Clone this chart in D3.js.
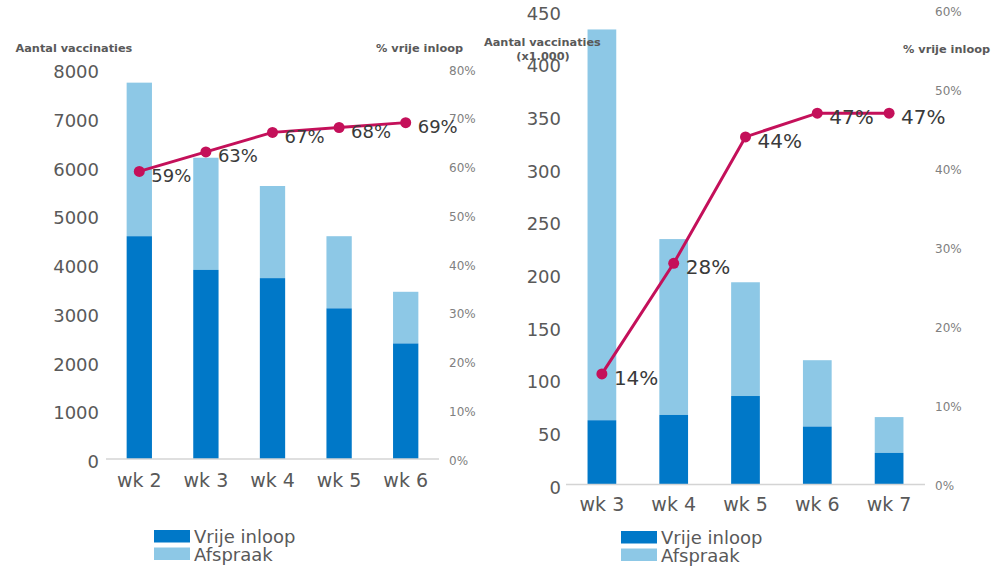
<!DOCTYPE html>
<html><head><meta charset="utf-8">
<script src="https://cdn.jsdelivr.net/npm/d3@7"></script>
<style>body{margin:0;background:#fff}svg{display:block}text{font-family:"DejaVu Sans",Verdana,sans-serif}</style>
</head><body><svg id="c" width="995" height="568"></svg>
<script>
// Left chart data
const leftWeeks = ["wk 2","wk 3","wk 4","wk 5","wk 6"];
const leftVrije = [4570,3880,3710,3090,2370];
const leftAfspraak = [3150,2300,1890,1480,1060];
const leftPct = [59,63,67,68,69];
const leftTicks = [0,1000,2000,3000,4000,5000,6000,7000,8000];
const leftPctTicks = [0,10,20,30,40,50,60,70,80];
// Right chart data
const rightWeeks = ["wk 3","wk 4","wk 5","wk 6","wk 7"];
const rightVrije = [61,66,84,55,30];
const rightAfspraak = [371,167,108,63,34];
const rightPct = [14,28,44,47,47];
const rightTicks = [0,50,100,150,200,250,300,350,400,450];
const rightPctTicks = [0,10,20,30,40,50,60];
const seriesNames = ["Vrije inloop","Afspraak"];

const C_DARK="#0078c8", C_LIGHT="#8dc8e6", C_LINE="#c4105a", C_TXT="#595959";
const svg = d3.select("#c");

function chart(o){
  const g = svg.append("g");
  const x = d3.scaleBand().domain(o.weeks).range([o.x0,o.x1]).paddingInner(o.pad).paddingOuter(o.pad/2);
  const y = d3.scaleLinear().domain([0,o.max]).range([o.base,o.top]);
  const yp = d3.scaleLinear().domain([0,o.pmax]).range([o.base,o.top]);
  // bars
  const stack = o.weeks.map((w,i)=>({w,v:o.vrije[i],a:o.afspraak[i]}));
  g.selectAll(".bl").data(stack).join("rect")
    .attr("x",d=>x(d.w)).attr("width",x.bandwidth())
    .attr("y",d=>y(d.v+d.a)).attr("height",d=>y(d.v)-y(d.v+d.a)).attr("fill",C_LIGHT);
  g.selectAll(".bd").data(stack).join("rect")
    .attr("x",d=>x(d.w)).attr("width",x.bandwidth())
    .attr("y",d=>y(d.v)).attr("height",d=>y(0)-y(d.v)).attr("fill",C_DARK);
  // baseline
  g.append("line").attr("x1",o.x0).attr("x2",o.x1).attr("y1",o.base).attr("y2",o.base)
    .attr("stroke","#d4d4d4").attr("stroke-width",1.5);
  // left ticks
  g.selectAll(".yt").data(o.ticks).join("text")
    .attr("x",o.ylx).attr("y",d=>y(d)+o.ydy).attr("text-anchor","end").attr("dominant-baseline","central")
    .attr("font-size",18).attr("fill",C_TXT).text(d=>d);
  // right pct ticks
  g.selectAll(".pt").data(o.pticks).join("text")
    .attr("x",o.prx).attr("y",d=>yp(d)+1.5).attr("dominant-baseline","central")
    .attr("font-size",12).attr("fill","#808080").text(d=>d+"%");
  // x labels
  g.selectAll(".xt").data(o.weeks).join("text")
    .attr("x",d=>x(d)+x.bandwidth()/2).attr("y",o.xly).attr("text-anchor","middle").attr("dominant-baseline","central")
    .attr("font-size",19).attr("fill",C_TXT).text(d=>d);
  // line
  const pts = o.weeks.map((w,i)=>[x(w)+x.bandwidth()/2, yp(o.pct[i]), o.pct[i]]);
  g.append("path").attr("d",d3.line()(pts.map(p=>[p[0],p[1]]))).attr("fill","none")
    .attr("stroke",C_LINE).attr("stroke-width",3);
  g.selectAll(".dot").data(pts).join("circle").attr("cx",d=>d[0]).attr("cy",d=>d[1]).attr("r",5.5).attr("fill",C_LINE);
  g.selectAll(".lab").data(pts).join("text").attr("x",d=>d[0]+12).attr("y",d=>d[1]+4)
    .attr("dominant-baseline","central").attr("font-size",o.labfs).attr("fill","#3a3a3a").text(d=>d[2]+"%");
  // titles
  o.titles.forEach(t=>{
    g.append("text").attr("x",t.x).attr("y",t.y).attr("text-anchor",t.anchor).attr("dominant-baseline","central")
      .attr("font-size",11.3).attr("font-weight","bold").attr("fill",C_TXT).text(t.text);
  });
  // legend
  seriesNames.forEach((n,i)=>{
    g.append("rect").attr("x",o.lgx).attr("y",o.lgy+i*17.5).attr("width",36).attr("height",12.5).attr("fill",i?C_LIGHT:C_DARK);
    g.append("text").attr("x",o.lgx+40).attr("y",o.lgy+6.5+i*17.8).attr("dominant-baseline","central")
      .attr("font-size",18).attr("fill",C_TXT).text(n);
  });
}

chart({weeks:leftWeeks,vrije:leftVrije,afspraak:leftAfspraak,pct:leftPct,ticks:leftTicks,pticks:leftPctTicks,
  max:8000,pmax:80,x0:106,x1:439,base:459,top:69,pad:0.62,ylx:99,ydy:2.7,prx:449,xly:479.5,labfs:18,
  titles:[{x:15.5,y:48.3,anchor:"start",text:"Aantal vaccinaties"},{x:463,y:48,anchor:"end",text:"% vrije inloop"}],
  lgx:154,lgy:530});
chart({weeks:rightWeeks,vrije:rightVrije,afspraak:rightAfspraak,pct:rightPct,ticks:rightTicks,pticks:rightPctTicks,
  max:450,pmax:60,x0:566,x1:925,base:484.5,top:10.5,pad:0.6,ylx:561,ydy:2.8,prx:935,xly:503.5,labfs:20,
  titles:[{x:484,y:42.7,anchor:"start",text:"Aantal vaccinaties"},{x:543,y:56.7,anchor:"middle",text:"(x1.000)"},{x:990,y:49.3,anchor:"end",text:"% vrije inloop"}],
  lgx:621,lgy:531});
</script></body></html>
